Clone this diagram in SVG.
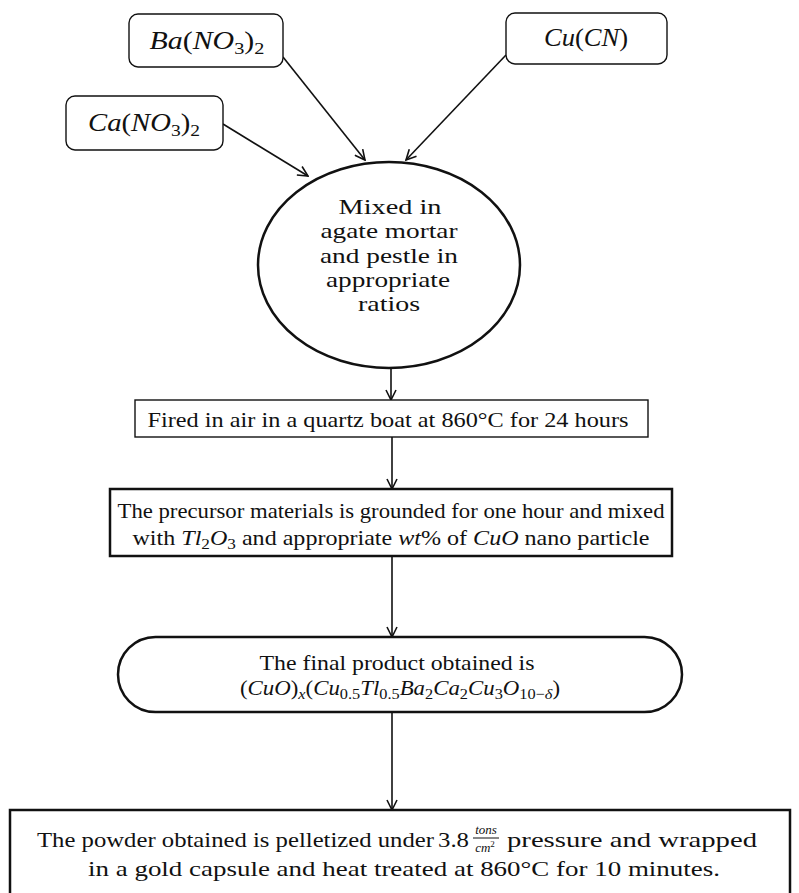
<svg xmlns="http://www.w3.org/2000/svg" width="799" height="893" viewBox="0 0 799 893">
<style>
.bx{fill:#fff;stroke:#111;stroke-width:1.4}
.bk{fill:#fff;stroke:#111;stroke-width:2.5}
.t{font-family:"Liberation Serif","Times New Roman",serif;font-size:21px;fill:#111;text-anchor:middle}
.m{font-family:"Liberation Serif","Times New Roman",serif;font-style:italic;fill:#111}
.u{font-style:normal}
.c{stroke:#111;stroke-width:1.6;fill:none}
</style>
<defs>
<marker id="ah" viewBox="0 0 12 12" refX="11" refY="6" markerWidth="12" markerHeight="12" markerUnits="userSpaceOnUse" orient="auto">
<path d="M1,1 L11,6 L1,11" fill="none" stroke="#111" stroke-width="1.6"/>
</marker>
</defs>

<g id="connectors">
<line class="c" x1="283" y1="57" x2="365" y2="160" marker-end="url(#ah)"/>
<line class="c" x1="506" y1="55" x2="406" y2="160" marker-end="url(#ah)"/>
<line class="c" x1="223" y1="124" x2="308" y2="176" marker-end="url(#ah)"/>
<line class="c" x1="391" y1="368" x2="391" y2="400" marker-end="url(#ah)"/>
<line class="c" x1="392" y1="437" x2="392" y2="489" marker-end="url(#ah)"/>
<line class="c" x1="392" y1="556" x2="392" y2="637" marker-end="url(#ah)"/>
<line class="c" x1="392" y1="712" x2="392" y2="810" marker-end="url(#ah)"/>
</g>

<g id="ba">
<rect class="bx" x="129" y="14" width="154" height="53" rx="9"/>
<text class="m" x="207" y="49" font-size="25" text-anchor="middle" textLength="115" lengthAdjust="spacingAndGlyphs">Ba<tspan class="u">(</tspan>NO<tspan class="u" font-size="17" dy="5">3</tspan><tspan class="u" dy="-5">)</tspan><tspan class="u" font-size="17" dy="5">2</tspan></text>
</g>

<g id="cu">
<rect class="bx" x="506" y="13" width="161" height="51" rx="9"/>
<text class="m" x="586" y="46" font-size="25" text-anchor="middle" textLength="84" lengthAdjust="spacingAndGlyphs">Cu<tspan class="u">(</tspan>CN<tspan class="u">)</tspan></text>
</g>

<g id="ca">
<rect class="bx" x="66" y="96" width="157" height="54" rx="9"/>
<text class="m" x="144" y="131" font-size="25" text-anchor="middle" textLength="112" lengthAdjust="spacingAndGlyphs">Ca<tspan class="u">(</tspan>NO<tspan class="u" font-size="17" dy="5">3</tspan><tspan class="u" dy="-5">)</tspan><tspan class="u" font-size="17" dy="5">2</tspan></text>
</g>

<g id="mix">
<ellipse class="bk" cx="389" cy="265" rx="131" ry="103"/>
<text class="t" x="390" y="214" font-size="23" textLength="103" lengthAdjust="spacingAndGlyphs">Mixed in</text>
<text class="t" x="389" y="238" font-size="23" textLength="137" lengthAdjust="spacingAndGlyphs">agate mortar</text>
<text class="t" x="389" y="263" font-size="23" textLength="138" lengthAdjust="spacingAndGlyphs">and pestle in</text>
<text class="t" x="388" y="287" font-size="23" textLength="124" lengthAdjust="spacingAndGlyphs">appropriate</text>
<text class="t" x="389" y="311" font-size="23" textLength="62" lengthAdjust="spacingAndGlyphs">ratios</text>
</g>

<g id="fired">
<rect class="bx" x="135" y="400" width="513" height="37"/>
<text class="t" x="388" y="427" textLength="481" lengthAdjust="spacingAndGlyphs">Fired in air in a quartz boat at 860°C for 24 hours</text>
</g>

<g id="ground">
<rect class="bk" x="110" y="489" width="562" height="67"/>
<text class="t" x="391" y="518" textLength="547" lengthAdjust="spacingAndGlyphs">The precursor materials is grounded for one hour and mixed</text>
<text class="t" x="391" y="545" textLength="517" lengthAdjust="spacingAndGlyphs">with <tspan class="m">Tl</tspan><tspan font-size="15" dy="4">2</tspan><tspan class="m" dy="-4">O</tspan><tspan font-size="15" dy="4">3</tspan><tspan dy="-4"> and appropriate </tspan><tspan class="m">wt</tspan>% of <tspan class="m">CuO</tspan> nano particle</text>
</g>

<g id="final">
<rect class="bk" x="118" y="637" width="564" height="75" rx="37.5"/>
<text class="t" x="397" y="670" textLength="275" lengthAdjust="spacingAndGlyphs">The final product obtained is</text>
<text class="t" x="400" y="695" textLength="320" lengthAdjust="spacingAndGlyphs">(<tspan class="m">CuO</tspan>)<tspan class="m" font-size="15" dy="4">x</tspan><tspan dy="-4">(</tspan><tspan class="m">Cu</tspan><tspan font-size="15" dy="4">0.5</tspan><tspan class="m" dy="-4">Tl</tspan><tspan font-size="15" dy="4">0.5</tspan><tspan class="m" dy="-4">Ba</tspan><tspan font-size="15" dy="4">2</tspan><tspan class="m" dy="-4">Ca</tspan><tspan font-size="15" dy="4">2</tspan><tspan class="m" dy="-4">Cu</tspan><tspan font-size="15" dy="4">3</tspan><tspan class="m" dy="-4">O</tspan><tspan font-size="15" dy="4">10−<tspan class="m">δ</tspan></tspan><tspan dy="-4">)</tspan></text>
</g>

<g id="pellet">
<rect class="bk" x="10" y="810" width="780" height="85"/>
<text class="t" x="37" y="847" font-size="25" style="text-anchor:start" textLength="397" lengthAdjust="spacingAndGlyphs">The powder obtained is pelletized under</text>
<text class="t" x="438" y="847" font-size="25" style="text-anchor:start" textLength="31" lengthAdjust="spacingAndGlyphs">3.8</text>
<text class="m" x="486" y="834" font-size="13" text-anchor="middle">tons</text>
<line x1="473" y1="838" x2="499" y2="838" stroke="#111" stroke-width="1"/>
<text class="m" x="485" y="852" font-size="13" text-anchor="middle">cm<tspan class="u" font-size="9" dy="-5">2</tspan></text>
<text class="t" x="507" y="847" font-size="25" style="text-anchor:start" textLength="250" lengthAdjust="spacingAndGlyphs">pressure and wrapped</text>
<text class="t" x="404" y="876" font-size="25" textLength="632" lengthAdjust="spacingAndGlyphs">in a gold capsule and heat treated at 860°C for 10 minutes.</text>
</g>
</svg>
